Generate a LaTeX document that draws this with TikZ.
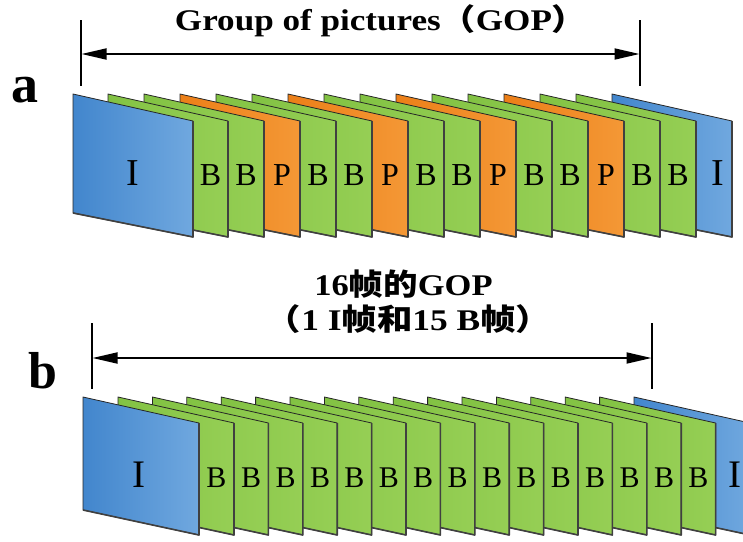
\documentclass[tikz,border=0pt]{standalone}
\usepackage{fontspec}
\setmainfont{Liberation Serif}
\newfontfamily\cjk{Noto Sans CJK SC}
\usetikzlibrary{arrows.meta}
\definecolor{iblueL}{HTML}{4286CD}
\definecolor{iblueR}{HTML}{70A8DF}
\definecolor{bgreenL}{HTML}{82C243}
\definecolor{bgreenR}{HTML}{96CF55}
\definecolor{porangeL}{HTML}{EC7F18}
\definecolor{porangeR}{HTML}{F49836}
\tikzset{
  panelI/.style={left color=iblueL,right color=iblueR},
  panelB/.style={left color=bgreenL,right color=bgreenR},
  panelP/.style={left color=porangeL,right color=porangeR},
  paneledge/.style={draw=black!85,line width=0.8pt,line join=round},
  panelshadow/.style={draw=black!75,line width=1.6pt,line join=round},
  lblA/.style={font=\fontsize{32}{32}\selectfont,anchor=base,inner sep=0pt},
  lblAI/.style={font=\fontsize{38}{38}\selectfont,anchor=base,inner sep=0pt},
  lblB/.style={font=\fontsize{30}{30}\selectfont,anchor=base,inner sep=0pt},
  lblBI/.style={font=\fontsize{39}{39}\selectfont,anchor=base,inner sep=0pt},
  gopbar/.style={line width=2pt},
  goparrow/.style={line width=1.8pt,{Triangle[length=25pt,width=11pt]}-{Triangle[length=25pt,width=11pt]},shorten <=0.5pt,shorten >=0.5pt},
  caption/.style={font=\bfseries\fontsize{30}{30}\selectfont,anchor=base,inner sep=0pt},
  letter/.style={font=\bfseries\fontsize{54}{54}\selectfont,anchor=base west,inner sep=0pt},
}
\begin{document}
\begin{tikzpicture}[x=1pt,y=-1pt]
\useasboundingbox (0,0) rectangle (743,541);
\clip (0,0) rectangle (743,541);
% ---------------- row a ----------------
\foreach \x/\t/\c [count=\i] in {612/I/718,576/B/678,540/B/642,504/P/606,468/B/570,432/B/534,396/P/498,360/B/462,324/B/426,288/P/390,252/B/354,216/B/318,180/P/282,144/B/246,108/B/210.5,73/I/133}{
  \path[panel\t,paneledge] (\x,94) -- (\x+120,121) -- (\x+120,237) -- (\x,213) -- cycle;
  \draw[panelshadow] (\x+120,121) -- (\x+120,237) -- (\x,213);
  \if\t I
    \node[lblAI] (fa\i) at (\c,185) {\t};
  \else
    \node[lblA] (fa\i) at (\c,185) {\t};
  \fi
}
% ---------------- row b ----------------
\foreach \x/\t/\c [count=\i] in {634/I/734.5,599.6/B/698.4,565.2/B/664,530.8/B/629.6,496.4/B/595.2,462/B/560.8,427.6/B/526.4,393.2/B/492,358.8/B/457.6,324.4/B/423.2,290/B/388.8,255.6/B/354.4,221.2/B/320,186.8/B/285.6,152.4/B/251.2,118/B/216.5,83/I/139}{
  \path[panel\t,paneledge] (\x,397) -- (\x+116,423) -- (\x+116,535) -- (\x,510) -- cycle;
  \draw[panelshadow] (\x+116,423) -- (\x+116,535) -- (\x,510);
  \if\t I
    \node[lblBI] (fb\i) at (\c,487) {\t};
  \else
    \node[lblB] (fb\i) at (\c,487) {\t};
  \fi
}
% ---------------- GOP span a ----------------
\coordinate (aLt) at (81,20);
\coordinate (aLb) at (81,86);
\coordinate (aRt) at (640,20);
\coordinate (aRb) at (640,86);
\coordinate (aL) at (81,54);
\coordinate (aR) at (640,54);
\draw[gopbar] (aLt) -- (aLb);
\draw[gopbar] (aRt) -- (aRb);
\draw[goparrow] (aL) -- (aR);
\node[caption] (capA) at (381,30) {\scalebox{1.17}[1]{Group of pictures{\cjk （}GOP{\cjk ）}}};
% ---------------- GOP span b ----------------
\coordinate (bLt) at (92,323);
\coordinate (bLb) at (92,389);
\coordinate (bRt) at (652,323);
\coordinate (bRb) at (652,389);
\coordinate (bL) at (92,358);
\coordinate (bR) at (652,358);
\draw[gopbar] (bLt) -- (bLb);
\draw[gopbar] (bRt) -- (bRb);
\draw[goparrow] (bL) -- (bR);
\node[caption] (capB1) at (403.5,295) {\scalebox{1.15}[1]{16{\cjk 帧的}GOP}};
\node[caption] (capB2) at (408.5,330) {\scalebox{1.18}[1]{{\cjk （}1 I{\cjk 帧和}15 B{\cjk 帧）}}};
% ---------------- row letters ----------------
\node[letter] (la) at (11,102) {a};
\node[letter,font=\bfseries\fontsize{52}{52}\selectfont] (lb) at (28,388) {b};
\end{tikzpicture}
\end{document}
